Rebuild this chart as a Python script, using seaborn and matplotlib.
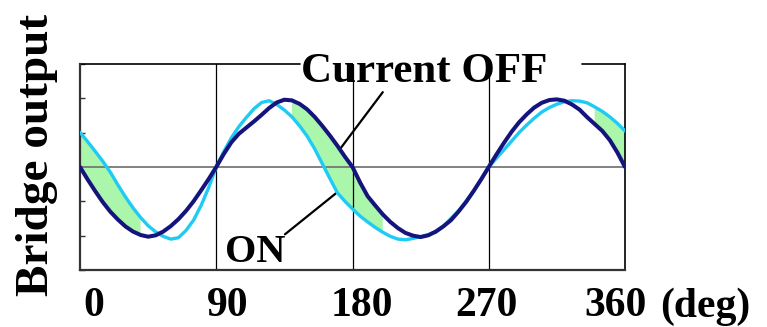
import numpy as np
import pandas as pd
import seaborn as sns
import matplotlib
matplotlib.use("Agg")
import matplotlib.pyplot as plt
from matplotlib.transforms import ScaledTranslation

sns.set_style("white")
plt.rcParams['font.family'] = ['Liberation Serif', 'DejaVu Serif']
plt.rcParams['font.weight'] = 'bold'
plt.rcParams['text.color'] = 'black'
plt.rcParams['xtick.color'] = 'black'
plt.rcParams['ytick.color'] = 'black'

# phase angle (deg), one sample every 5 deg
angle = list(range(0, 361, 5))

# dark curve: bridge output with the current off
off_output = [0, -0.36, -0.7, -1.02, -1.3, -1.53, -1.73, -1.88, -1.98, -2.03,
              -1.99, -1.88, -1.72, -1.52, -1.28, -1.0, -0.68, -0.35, 0,
              0.38, 0.72, 0.97, 1.15, 1.33, 1.52, 1.72, 1.88, 1.96,
              1.94, 1.84, 1.68, 1.46, 1.2, 0.92, 0.62, 0.3, 0,
              -0.45, -0.85, -1.12, -1.38, -1.6, -1.78, -1.92, -2.0, -2.04,
              -1.99, -1.88, -1.73, -1.55, -1.3, -1.02, -0.7, -0.36, 0,
              0.36, 0.7, 1.02, 1.3, 1.53, 1.73, 1.87, 1.95, 1.97,
              1.93, 1.82, 1.67, 1.45, 1.25, 1.05, 0.78, 0.42, 0]

# light curve: bridge output with the current on
on_output = [1.01, 0.74, 0.46, 0.17, -0.15, -0.52, -0.87, -1.19, -1.47, -1.71,
             -1.89, -2.02, -2.1, -2.06, -1.85, -1.55, -1.12, -0.6, 0,
             0.45, 0.85, 1.18, 1.45, 1.7, 1.88, 1.93, 1.82, 1.66,
             1.46, 1.2, 0.9, 0.53, 0.1, -0.33, -0.75, -1.0, -1.22,
             -1.43, -1.6, -1.76, -1.9, -2.02, -2.1, -2.12, -2.08, -2.03,
             -1.97, -1.9, -1.73, -1.5, -1.28, -1.0, -0.7, -0.35, 0,
             0.25, 0.5, 0.75, 1.0, 1.22, 1.42, 1.6, 1.73, 1.83,
             1.9, 1.93, 1.92, 1.87, 1.75, 1.62, 1.46, 1.27, 1.05]

shade_ranges = [(0, 40), (140, 200), (340, 360)]
tick_deg = [0, 90, 180, 270, 360]
tick_text = ['0', '90', '180', '270', '360']

navy = '#14147c'
cyan = '#1ecbf4'
green = '#aaf6aa'

df = pd.DataFrame({'deg': angle, 'off': off_output, 'on': on_output})

fig = plt.figure(figsize=(7.67, 3.27), dpi=100)
ax = fig.add_axes([80 / 767, 57 / 327, 545 / 767, 206 / 327])

# shaded difference between the two curves
deg = df['deg'].to_numpy()
mask = np.zeros(len(deg), dtype=bool)
for a, b in shade_ranges:
    mask |= (deg >= a) & (deg <= b)
ax.fill_between(deg, df['off'], df['on'], where=mask, color=green, lw=0, zorder=1)

# grid: only the centre lines
for d in tick_deg[1:-1]:
    ax.axvline(d, color='black', lw=0.9, zorder=2)
ax.axhline(0, color='#777777', lw=1.3, zorder=2)

# pointer lines from the labels
ax.annotate('', xy=(171.7, 0.52), xytext=(200, 2.18),
            arrowprops=dict(arrowstyle='-', lw=1.6, color='black', shrinkA=0, shrinkB=0),
            zorder=2.5)
ax.annotate('', xy=(169.8, -0.74), xytext=(135.4, -1.96),
            arrowprops=dict(arrowstyle='-', lw=1.6, color='black', shrinkA=0, shrinkB=0),
            zorder=2.5)

sns.lineplot(data=df, x='deg', y='on', color=cyan, lw=2.4, ax=ax, zorder=3)
sns.lineplot(data=df, x='deg', y='off', color=navy, lw=2.9, ax=ax, zorder=4)

ax.set_xlim(0, 360)
ax.set_ylim(-3, 3)
ax.set_xlabel('')
ax.set_ylabel('')

ax.set_xticks(tick_deg)
ax.set_xticklabels(tick_text, fontsize=30, fontweight='bold')
ax.tick_params(axis='x', length=0, pad=12)
ax.set_yticks(range(-3, 4))
ax.set_yticklabels([])
ax.tick_params(axis='y', direction='in', length=3.5, width=1, left=True, color='#333333')

# frame
for side in ['left', 'bottom']:
    ax.spines[side].set_color('#333333')
    ax.spines[side].set_linewidth(1.6)
ax.spines['right'].set_color('black')
ax.spines['right'].set_linewidth(1.2)
ax.spines['top'].set_visible(False)
# top border broken by the "Current OFF" label
ax.plot([0, 0.404], [1, 1], transform=ax.transAxes, color='black', lw=1.2, clip_on=False)
ax.plot([0.921, 1], [1, 1], transform=ax.transAxes, color='black', lw=1.2, clip_on=False)

# nudge tick labels like in the original
label_shift = [14, 11, 9, -2, -9]
for lbl, dx in zip(ax.get_xticklabels(), label_shift):
    lbl.set_transform(lbl.get_transform() + ScaledTranslation(dx / 100, 0, fig.dpi_scale_trans))

ax.text(0.632, 0.913, 'Current OFF', transform=ax.transAxes, ha='center',
        va='baseline', fontsize=31, fontweight='bold')
ax.text(116, -2.78, 'ON', ha='center', va='baseline', fontsize=29, fontweight='bold')

fig.text(705 / 767, 1 - 317 / 327, '(deg)', ha='center', va='baseline',
         fontsize=30, fontweight='bold')
fig.text(37 / 767, 1 - 155 / 327, 'Bridge output', rotation=90, ha='center',
         va='center', fontsize=34, fontweight='bold')

fig.savefig('out.png', dpi=100)
